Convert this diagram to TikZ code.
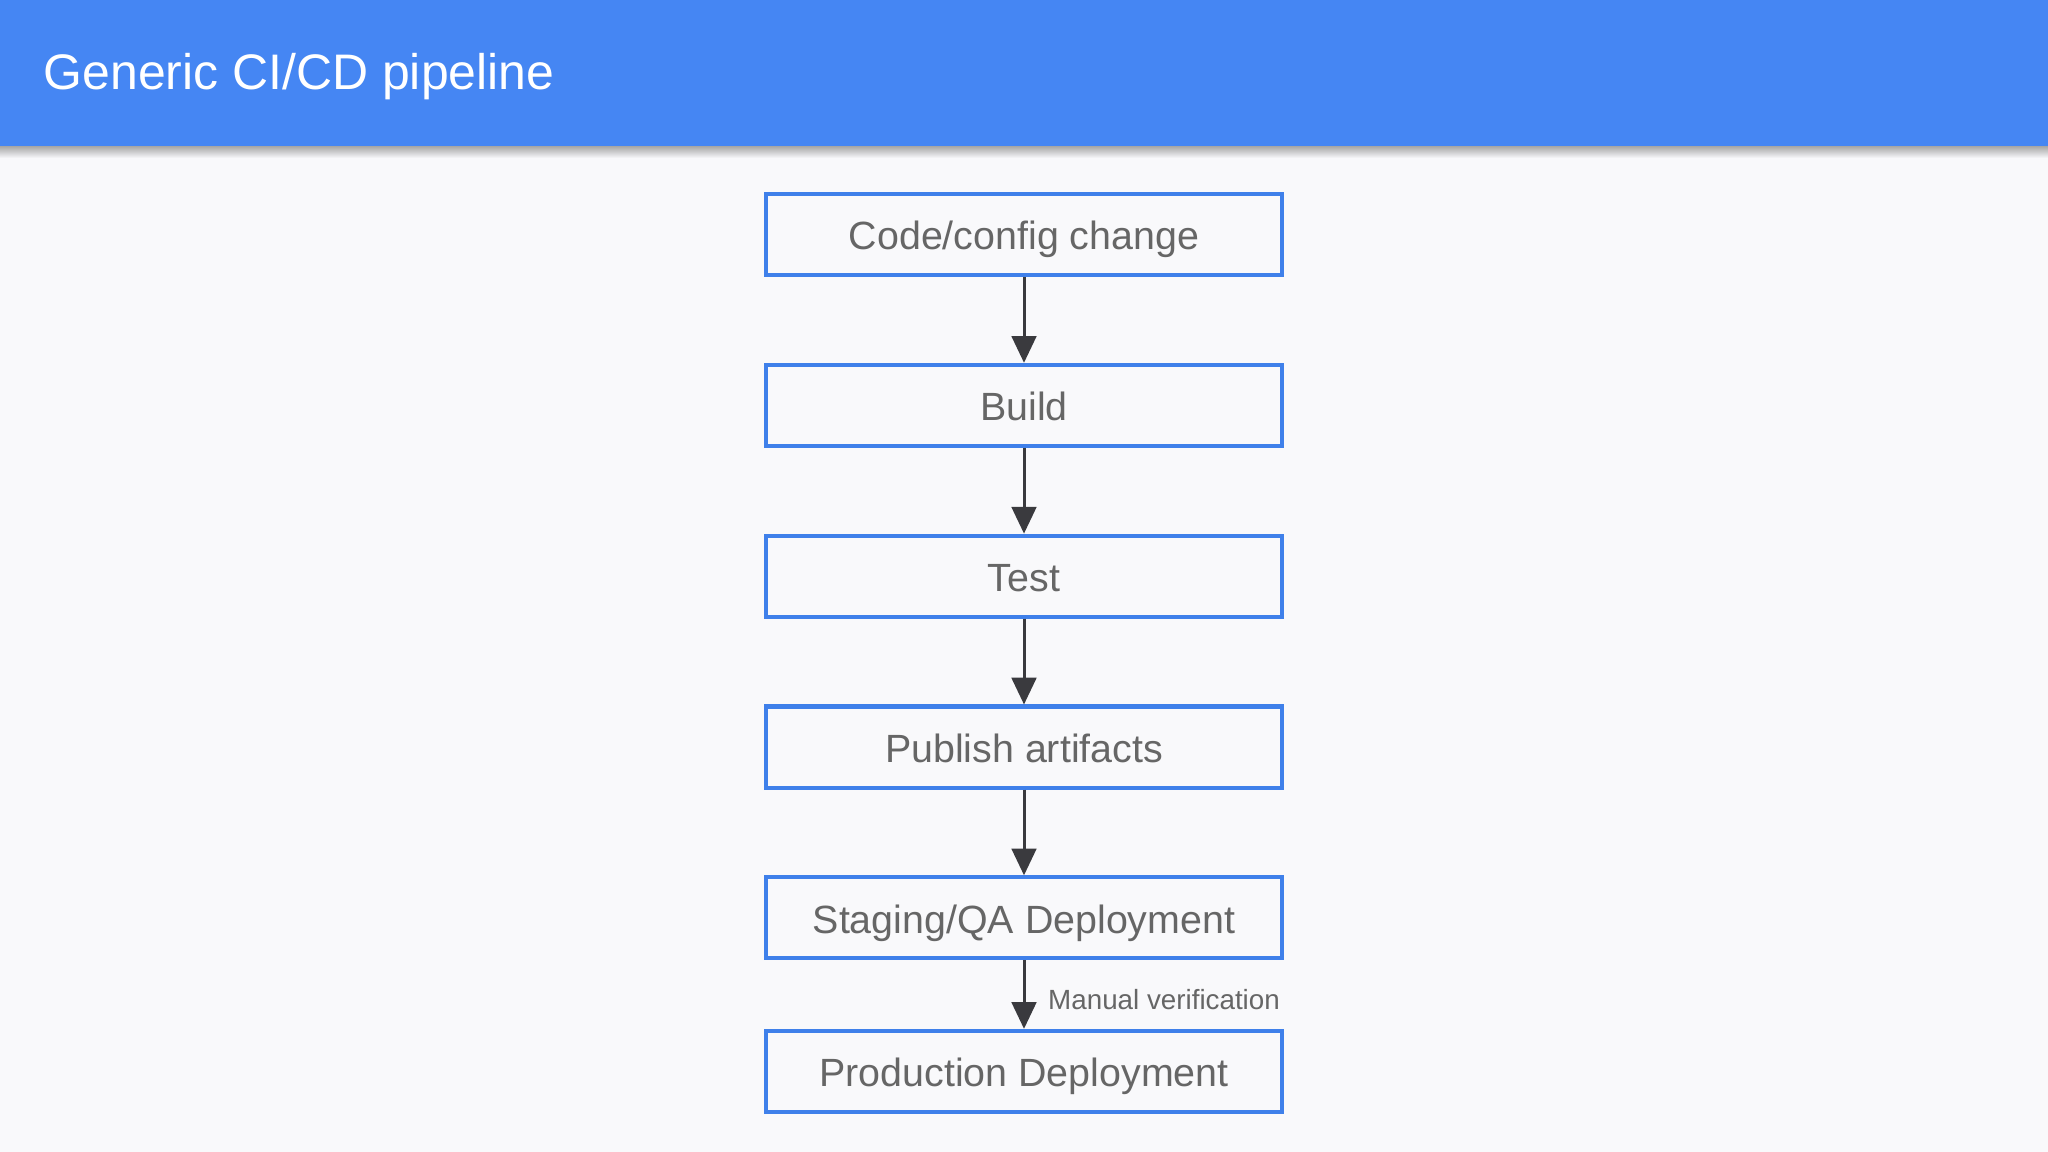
\documentclass[tikz,border=0pt]{standalone}
\usepackage{fontspec}
\setmainfont{Liberation Sans}
\usetikzlibrary{positioning,arrows.meta}
\definecolor{headblue}{HTML}{4586F3}
\definecolor{boxblue}{HTML}{3F80EA}
\definecolor{txtgray}{HTML}{666666}
\definecolor{arrowgray}{HTML}{3A3A3E}
\definecolor{pagebg}{HTML}{F9F9FB}
\tikzstyle{stage}=[draw=boxblue,line width=1.15pt,fill=pagebg,minimum width=5.16cm,minimum height=0.81cm,text=txtgray,font=\fontsize{11.2}{13}\selectfont,inner sep=0pt,text height=0.72em+1.5pt,text depth=0pt]
\tikzstyle{flow}=[draw=arrowgray,line width=0.85pt,-{Triangle[length=7.6pt,width=7pt]}]

\begin{document}
\begin{tikzpicture}[x=0.01cm,y=-0.01cm,node distance=0.857cm]
  \fill[pagebg] (0,0) rectangle (2048,1152);
  \useasboundingbox (0,0) rectangle (2048,1152);
  % header bar
  \shade[top color=black!35,bottom color=pagebg] (0,146) rectangle (2048,158);
  \fill[headblue] (0,0) rectangle (2048,146);
  \node[anchor=base west,text=white,font=\fontsize{14.2}{17}\selectfont,inner sep=0pt] (title) at (43,90) {Generic CI/CD pipeline};
%
  \node[stage] (change) at (1024,234.5) {Code/config change};
  \node[stage,below=of change] (build) {Build};
  \node[stage,below=of build] (test) {Test};
  \node[stage,below=of test] (publish) {Publish artifacts};
  \node[stage,below=of publish] (staging) {Staging/QA Deployment};
  \node[stage,below=0.684cm of staging] (prod) {Production Deployment};
%
  \draw[flow] (change) -- (build);
  \draw[flow] (build) -- (test);
  \draw[flow] (test) -- (publish);
  \draw[flow] (publish) -- (staging);
  \draw[flow] (staging) -- node[right,xshift=1.1mm,yshift=-0.5mm,text=txtgray,font=\fontsize{7.9}{9}\selectfont] {Manual verification} (prod);
\end{tikzpicture}
\end{document}
